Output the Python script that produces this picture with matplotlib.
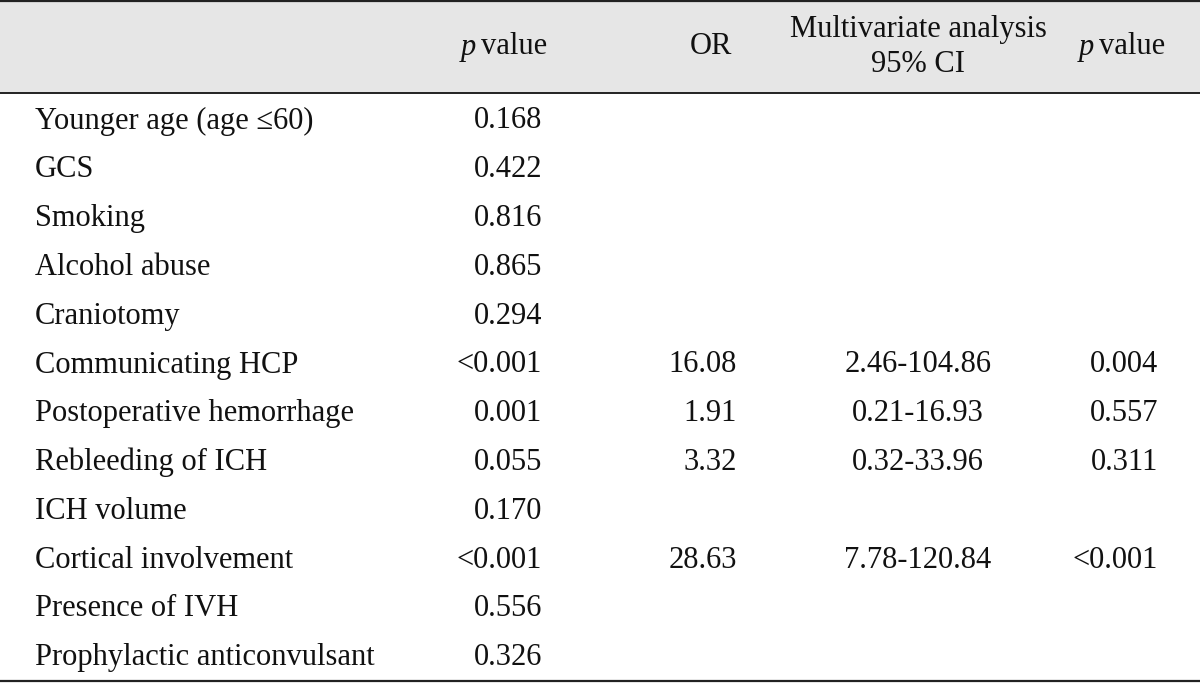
import matplotlib
matplotlib.use("Agg")
import matplotlib.pyplot as plt
from matplotlib.patches import Rectangle

variables = ["Younger age (age \u226460)", "GCS", "Smoking", "Alcohol abuse", "Craniotomy",
             "Communicating HCP", "Postoperative hemorrhage", "Rebleeding of ICH",
             "ICH volume", "Cortical involvement", "Presence of IVH", "Prophylactic anticonvulsant"]
p_univariate = ["0.168", "0.422", "0.816", "0.865", "0.294", "<0.001", "0.001", "0.055",
                "0.170", "<0.001", "0.556", "0.326"]
odds_ratio = ["", "", "", "", "", "16.08", "1.91", "3.32", "", "28.63", "", ""]
ci_95 = ["", "", "", "", "", "2.46-104.86", "0.21-16.93", "0.32-33.96", "", "7.78-120.84", "", ""]
p_multivariate = ["", "", "", "", "", "0.004", "0.557", "0.311", "", "<0.001", "", ""]

W, H = 1200, 683
fig = plt.figure(figsize=(12, 6.83), dpi=100)
ax = fig.add_axes([0, 0, 1, 1])
ax.set_xlim(0, W)
ax.set_ylim(H, 0)
ax.axis("off")

font = dict(family="Liberation Serif", fontsize=22, color="#111111")

# header background
ax.add_patch(Rectangle((0, 1), W, 92, facecolor="#e6e6e6", edgecolor="none"))
ax.plot([0, W], [1, 1], color="#222222", lw=1.6)
ax.plot([0, W], [93, 93], color="#222222", lw=1.4)
ax.plot([0, W], [681, 681], color="#222222", lw=1.6)


def p_header(x_split, y):
    ax.text(x_split, y, "p", ha="right", va="center", style="italic", **font)
    ax.text(x_split + 5, y, "value", ha="left", va="center", **font)


# header texts
p_header(476, 47)
ax.text(711, 47, "OR", ha="center", va="center", **font)
ax.text(918, 29, "Multivariate analysis", ha="center", va="center", **font)
ax.text(918, 64, "95% CI", ha="center", va="center", **font)
p_header(1094, 47)

row0, dy = 121, 48.8
for i, name in enumerate(variables):
    y = row0 + i * dy
    ax.text(35, y, name, ha="left", va="center", **font)
    ax.text(542, y, p_univariate[i], ha="right", va="center", **font)
    if odds_ratio[i]:
        ax.text(737, y, odds_ratio[i], ha="right", va="center", **font)
        ax.text(918, y, ci_95[i], ha="center", va="center", **font)
        ax.text(1158, y, p_multivariate[i], ha="right", va="center", **font)

fig.savefig("out.png", dpi=100)
